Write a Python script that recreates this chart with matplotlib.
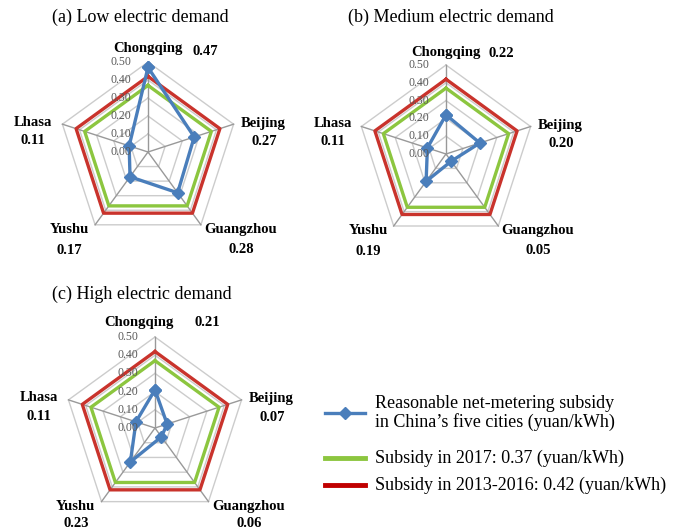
"""
Radar charts of reasonable net-metering subsidy for five Chinese cities
under low / medium / high electric demand, against the 2017 and
2013-2016 subsidy levels.
"""

import numpy as np
import matplotlib.pyplot as plt
from matplotlib.lines import Line2D

plt.rcParams["font.family"] = ["Liberation Serif", "DejaVu Serif"]

cities = ["Chongqing", "Beijing", "Guangzhou", "Yushu", "Lhasa"]
low_demand = [0.47, 0.27, 0.28, 0.17, 0.11]
medium_demand = [0.22, 0.20, 0.05, 0.19, 0.11]
high_demand = [0.21, 0.07, 0.06, 0.23, 0.11]
subsidy_2017 = 0.37
subsidy_2013_2016 = 0.42
ring_ticks = [0.0, 0.1, 0.2, 0.3, 0.4, 0.5]
panel_titles = [
    "(a) Low electric demand",
    "(b) Medium electric demand",
    "(c) High electric demand",
]

BLUE = "#4a7ebb"
GREEN = "#8cc63f"
RED = "#c9332c"
W, H = 683, 532

# label layout in axes fraction: (name xy, value xy) per city
LABEL_POS = {
    "Chongqing": ((0.50, 1.075), (0.82, 1.06)),
    "Beijing": ((1.14, 0.66), (1.145, 0.56)),
    "Guangzhou": ((1.015, 0.068), (1.02, -0.04)),
    "Yushu": ((0.062, 0.068), (0.065, -0.045)),
    "Lhasa": ((-0.14, 0.665), (-0.14, 0.565)),
}


def closed(seq):
    seq = list(seq)
    return seq + seq[:1]


def radar(ax, values, label_pos):
    theta = np.deg2rad(np.arange(len(cities)) * 360.0 / len(cities))
    ax.set_theta_zero_location("N")
    ax.set_theta_direction(-1)
    ax.set_ylim(0, ring_ticks[-1])
    ax.axis("off")

    # pentagon rings and spokes
    for r in ring_ticks[1:]:
        ax.plot(closed(theta), [r] * (len(cities) + 1), color="#cccccc",
                lw=1.0, clip_on=False, zorder=1)
    for t in theta:
        ax.plot([t, t], [0, ring_ticks[-1]], color="#999999", lw=1.0,
                clip_on=False, zorder=1)

    ax.plot(closed(theta), [subsidy_2013_2016] * (len(cities) + 1),
            color=RED, lw=2.4, clip_on=False, zorder=2)
    ax.plot(closed(theta), [subsidy_2017] * (len(cities) + 1),
            color=GREEN, lw=2.4, clip_on=False, zorder=2)
    ax.plot(closed(theta), closed(values), color=BLUE, lw=2.4,
            marker="D", ms=6, clip_on=False, zorder=3)

    for v in ring_ticks:
        ax.annotate(f"{v:.2f}", xy=(0, v), xytext=(-12, 0),
                    textcoords="offset points", ha="right", va="center",
                    color="#595959", fontsize=8.5, zorder=4)

    for city, val in zip(cities, values):
        (nx, ny), (vx, vy) = label_pos[city]
        ax.text(nx, ny, city, transform=ax.transAxes, ha="center",
                va="center", fontsize=10.5, fontweight="bold")
        ax.text(vx, vy, f"{val:.2f}", transform=ax.transAxes, ha="center",
                va="center", fontsize=10.5, fontweight="bold")


fig = plt.figure(figsize=(W / 100, H / 100), dpi=100)

# (center x, center y, radius) in pixels for each panel
panels = [(148, 152, 90), (446, 154, 89), (155, 428, 91)]
title_xy = [(52, 17), (348, 17), (52, 294)]
data = [low_demand, medium_demand, high_demand]

for i, ((cx, cy, r), vals) in enumerate(zip(panels, data)):
    ax = fig.add_axes([(cx - r) / W, (H - cy - r) / H, 2 * r / W, 2 * r / H],
                      projection="polar")
    pos = dict(LABEL_POS)
    if i == 1:
        pos["Chongqing"] = ((0.50, 1.073), (0.81, 1.067))
        pos["Lhasa"] = ((-0.135, 0.674), (-0.135, 0.573))
    if i == 2:
        pos["Chongqing"] = ((0.41, 1.077), (0.79, 1.077))
        pos["Yushu"] = ((0.062, 0.068), (0.065, -0.025))
        pos["Guangzhou"] = ((1.015, 0.068), (1.02, -0.025))
    radar(ax, vals, pos)
    tx, ty = title_xy[i]
    fig.text(tx / W, 1 - ty / H, panel_titles[i], ha="left", va="center",
             fontsize=13)

# legend, laid out by hand so the gaps between entries can differ
legend_rows = [
    (413, BLUE, 2.4, True,
     "Reasonable net-metering subsidy\nin China\u2019s five cities (yuan/kWh)"),
    (458, GREEN, 3.5, False,
     f"Subsidy in 2017: {subsidy_2017:.2f} (yuan/kWh)"),
    (485, "#c00000", 3.5, False,
     f"Subsidy in 2013-2016: {subsidy_2013_2016:.2f} (yuan/kWh)"),
]
x0, x1 = 325 / W, 365 / W
for y, color, lw, with_marker, text in legend_rows:
    fy = 1 - y / H
    fig.add_artist(Line2D([x0, x1], [fy, fy], transform=fig.transFigure,
                          color=color, lw=lw))
    if with_marker:
        fig.add_artist(Line2D([(x0 + x1) / 2], [fy], transform=fig.transFigure,
                              color=color, marker="D", ms=6, lw=0))
    fig.text(375 / W, fy, text, ha="left", va="center", fontsize=13,
             linespacing=1.1)

fig.savefig("out.png", dpi=100)
